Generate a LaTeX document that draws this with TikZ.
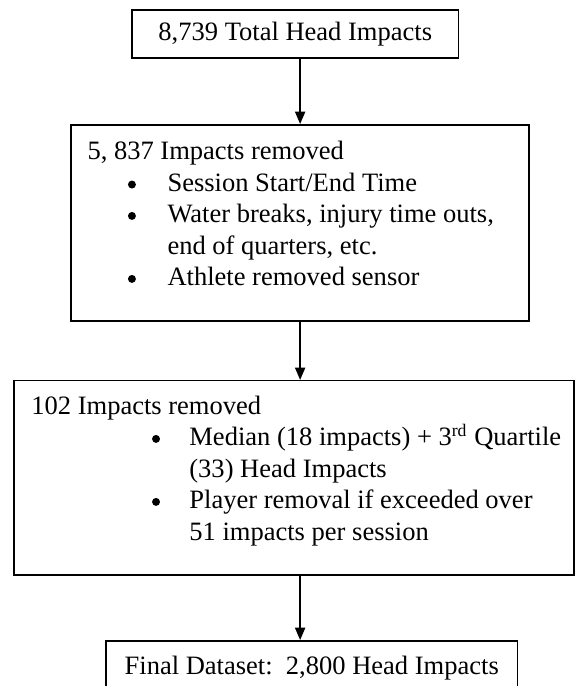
\documentclass[tikz,border=0pt,12pt]{standalone}
\usepackage{fontspec}
\setmainfont{Liberation Serif}
\usetikzlibrary{arrows.meta}

\begin{document}
\begin{tikzpicture}[
	flowbox/.style={draw, line width=0.7pt, inner sep=0pt, anchor=north west},
	line/.style={anchor=base west, inner sep=0pt},
	dot/.style={circle, fill, inner sep=0pt, minimum size=3.6pt},
	flow/.style={line width=0.7pt, -{Triangle[width=4.6pt,length=5.6pt]}}
]
	\useasboundingbox (0,0) rectangle (260.2pt,-310.4pt);
	\clip (0,0) rectangle (260.2pt,-310.4pt);

	\node[flowbox, minimum width=147.9pt, minimum height=21.7pt] (total) at (59.3pt,-4.1pt) {8,739 Total Head Impacts};

	\node[flowbox, minimum width=207.2pt, minimum height=88.7pt] (removedA) at (31.7pt,-56.1pt) {};
	\node[line] (headA) at (39.4pt,-72.2pt) {5, 837 Impacts removed};
	\node[dot] (dotA1) at (59.7pt,-83.5pt) {};
	\node[line] (itemA1) at (75.6pt,-86.7pt) {Session Start/End Time};
	\node[dot] (dotA2) at (59.7pt,-97.7pt) {};
	\node[line] (itemA2) at (75.6pt,-100.9pt) {Water breaks, injury time outs,};
	\node[line] (itemA2b) at (75.6pt,-115.2pt) {end of quarters, etc.};
	\node[dot] (dotA3) at (59.7pt,-126.2pt) {};
	\node[line] (itemA3) at (75.6pt,-129.4pt) {Athlete removed sensor};

	\node[flowbox, minimum width=253.4pt, minimum height=87.8pt] (removedB) at (5.9pt,-171.9pt) {};
	\node[line] (headB) at (14.0pt,-187.6pt) {102 Impacts removed};
	\node[dot] (dotB1) at (70.6pt,-198.6pt) {};
	\node[line] (itemB1) at (85.5pt,-201.8pt) {Median (18 impacts) + 3\textsuperscript{rd} Quartile};
	\node[line] (itemB1b) at (85.5pt,-216.1pt) {(33) Head Impacts};
	\node[dot] (dotB2) at (70.6pt,-227.1pt) {};
	\node[line] (itemB2) at (85.5pt,-230.3pt) {Player removal if exceeded over};
	\node[line] (itemB2b) at (85.5pt,-244.6pt) {51 impacts per session};

	\node[flowbox, minimum width=186.4pt, minimum height=24.4pt] (final) at (47.5pt,-289.6pt) {Final Dataset:\ \ 2,800 Head Impacts};

	\coordinate (axis) at (135.8pt,0);
	\draw[flow] (total.south -| axis) -- (removedA.north -| axis);
	\draw[flow] (removedA.south -| axis) -- (removedB.north -| axis);
	\draw[flow] (removedB.south -| axis) -- (final.north -| axis);
\end{tikzpicture}
\end{document}
